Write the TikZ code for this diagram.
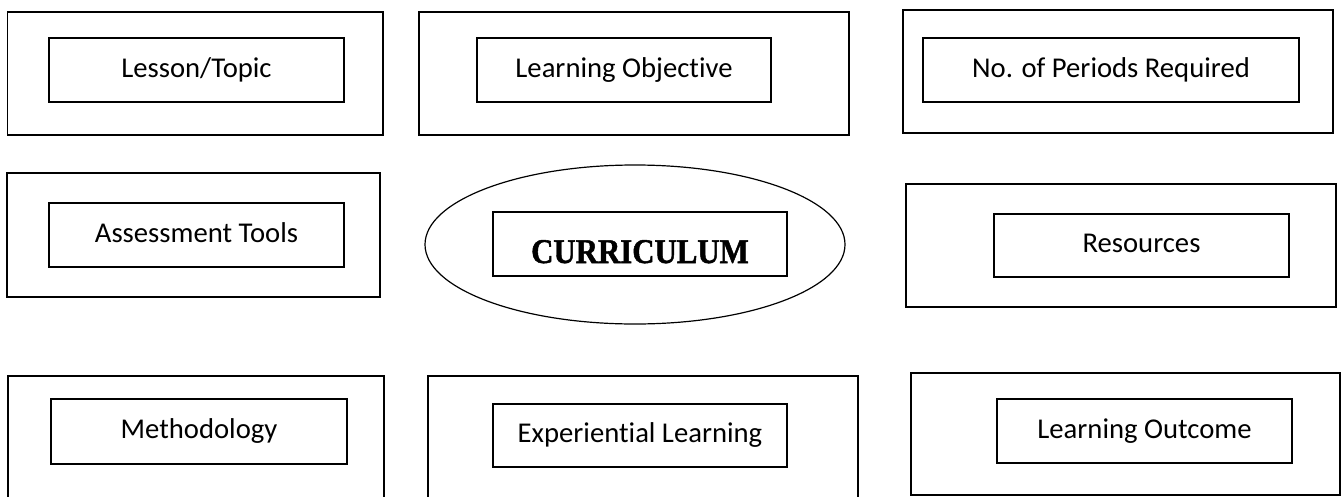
\documentclass[tikz,border=0pt]{standalone}
\usepackage{fontspec}
\setmainfont{Carlito}[Ligatures=NoCommon]
\newfontfamily\curfont{Liberation Serif}[BoldFeatures={FakeBold=1.5}]
\usetikzlibrary{fit,shapes.geometric}
\tikzset{
  outerbox/.style={draw, line width=1.2pt, inner sep=0pt},
  innerbox/.style={draw, line width=1.2pt, inner sep=0pt},
  lbl/.style={font=\fontsize{21.5}{24}\selectfont, inner sep=0pt, anchor=base, yshift=-5.6pt},
  oval/.style={draw, ellipse, line width=0.9pt, inner sep=0pt}
}
\begin{document}
\begin{tikzpicture}[x=0.75pt,y=-0.75pt]
\useasboundingbox (0,0) rectangle (1341,496);
\clip (0,0) rectangle (1341,496);
% row 1
\node[outerbox, fit={(7.5,12)(383,135)}] (o1) {};
\node[innerbox, fit={(49,38)(344,102)}] (i1) {};
\node[lbl] (t1) at (i1.center) {Lesson/Topic};
\node[outerbox, fit={(419,12)(849,135)}] (o2) {};
\node[innerbox, fit={(477,38)(771,102)}] (i2) {};
\node[lbl] (t2) at (i2.center) {Learning Objective};
\node[outerbox, fit={(903,10)(1333,133)}] (o3) {};
\node[innerbox, fit={(923,38)(1299,102)}] (i3) {};
\node[lbl] (t3) at (i3.center) {No. of Periods Required};
% row 2
\node[outerbox, fit={(7,173)(380,297)}] (o4) {};
\node[innerbox, fit={(49,203)(344,267)}] (i4) {};
\node[lbl] (t4) at (i4.center) {Assessment Tools};
\node[oval, minimum width=420*0.75pt, minimum height=159*0.75pt] (e5) at (635,244.5) {};
\node[innerbox, fit={(493,212)(787,276)}] (i5) {};
\node[inner sep=0pt, anchor=base] (t5) at (640,263) {\scalebox{0.89}[1]{\curfont\bfseries\fontsize{26}{30}\selectfont CURRICULUM}};
\node[outerbox, fit={(906,184)(1336,307)}] (o6) {};
\node[innerbox, fit={(994,214)(1289,277)}] (i6) {};
\node[lbl] (t6) at (i6.center) {Resources};
% row 3
\node[outerbox, fit={(8,376)(384,520)}] (o7) {};
\node[innerbox, fit={(51,399)(347,464)}] (i7) {};
\node[lbl] (t7) at (i7.center) {Methodology};
\node[outerbox, fit={(428,376)(858,520)}] (o8) {};
\node[innerbox, fit={(493,404)(787,467)}] (i8) {};
\node[lbl] (t8) at (i8.center) {Experiential Learning};
\node[outerbox, fit={(911,373)(1340,495)}] (o9) {};
\node[innerbox, fit={(997,399)(1292,463)}] (i9) {};
\node[lbl] (t9) at (i9.center) {Learning Outcome};
\end{tikzpicture}
\end{document}
